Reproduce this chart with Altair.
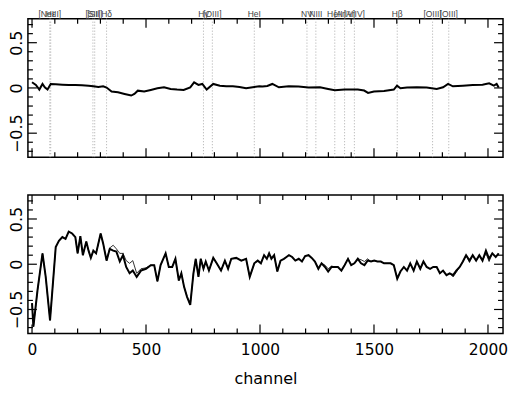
import altair as alt
import pandas as pd

# ---------------- data ----------------
top_chan = [0, 17, 32, 46, 56, 68, 82, 104, 133, 161, 190, 219, 248, 269, 291, 312, 327,
            349, 377, 406, 435, 449, 464, 492, 521, 550, 579, 608, 636, 665, 694, 711,
            730, 747, 766, 795, 824, 852, 881, 910, 939, 968, 997, 1011, 1032, 1054,
            1083, 1126, 1169, 1213, 1263, 1299, 1328, 1371, 1429, 1457, 1474, 1500,
            1544, 1587, 1601, 1616, 1645, 1688, 1731, 1775, 1803, 1825, 1846, 1890,
            1933, 1976, 2005, 2026, 2038, 2047]
top_val = [0.063, 0.033, -0.018, 0.044, 0.007, -0.018, 0.044, 0.040, 0.036, 0.033, 0.033,
           0.029, 0.025, 0.018, 0.011, 0.018, 0.004, -0.040, -0.048, -0.066, -0.084,
           -0.066, -0.030, -0.040, -0.022, -0.004, 0.007, -0.011, -0.018, -0.022, 0.007,
           0.062, 0.033, 0.044, -0.018, 0.044, 0.025, 0.018, 0.018, 0.011, -0.004, 0.007,
           0.018, 0.015, 0.022, 0.044, 0.007, 0.018, 0.015, 0.004, 0.007, -0.011, -0.026,
           -0.018, -0.018, -0.029, -0.055, -0.040, -0.033, -0.018, 0.025, -0.004, 0.004,
           0.007, 0.004, -0.011, 0.007, 0.044, 0.018, 0.025, 0.033, 0.036, 0.051, 0.025,
           0.044, 0.004]

bot_chan = [0, 6, 24, 46, 60, 79, 96, 104, 118, 133, 147, 161, 176, 190, 200, 212, 223,
            238, 248, 258, 269, 281, 301, 312, 327, 341, 356, 370, 385, 399, 413, 428,
            442, 459, 478, 500, 521, 536, 550, 564, 586, 600, 615, 629, 644, 655, 667,
            680, 694, 708, 718, 730, 740, 752, 762, 776, 795, 810, 829, 846, 860, 874,
            896, 918, 939, 955, 975, 990, 1004, 1018, 1030, 1040, 1050, 1062, 1076,
            1090, 1105, 1116, 1127, 1141, 1155, 1170, 1184, 1198, 1213, 1227, 1241,
            1256, 1270, 1285, 1299, 1314, 1328, 1342, 1357, 1371, 1386, 1400, 1414,
            1429, 1443, 1458, 1472, 1487, 1501, 1515, 1530, 1544, 1559, 1573, 1587,
            1602, 1616, 1631, 1645, 1659, 1674, 1688, 1703, 1717, 1731, 1746, 1760,
            1775, 1789, 1803, 1818, 1832, 1847, 1861, 1876, 1890, 1904, 1919, 1933,
            1948, 1962, 1976, 1991, 2005, 2019, 2034, 2047]
bot_thick = [-0.43, -0.69, -0.29, 0.12, -0.14, -0.62, -0.07, 0.19, 0.26, 0.30, 0.28, 0.36,
             0.34, 0.30, 0.12, 0.31, 0.10, 0.25, 0.15, 0.07, 0.15, 0.12, 0.34, 0.23, 0.04,
             0.17, 0.15, 0.14, 0.03, 0.10, -0.03, -0.10, -0.07, -0.14, -0.07, -0.05,
             -0.01, -0.01, -0.19, -0.01, 0.12, -0.03, -0.03, 0.06, -0.18, -0.10, -0.25,
             -0.36, -0.45, -0.10, 0.06, -0.14, 0.06, -0.05, 0.03, -0.07, 0.07, 0.01,
             -0.07, 0.04, -0.05, 0.06, 0.07, 0.04, 0.06, -0.14, 0.01, 0.04, 0.01, 0.10,
             0.06, 0.12, 0.06, 0.10, -0.08, 0.04, 0.06, 0.08, 0.10, 0.08, 0.04, 0.06,
             0.03, 0.09, 0.10, 0.07, 0.03, -0.05, 0.01, -0.03, -0.08, -0.03, -0.03,
             -0.03, -0.07, -0.01, 0.06, -0.01, 0.01, 0.06, 0.01, -0.01, 0.04, 0.03,
             0.04, 0.03, 0.03, 0.01, 0.01, 0.01, -0.01, -0.16, -0.08, -0.03, -0.07,
             0.01, -0.07, 0.03, -0.05, 0.03, -0.03, -0.05, -0.03, -0.03, -0.10, -0.07,
             -0.12, -0.10, -0.12, -0.07, -0.03, 0.03, 0.10, 0.04, 0.10, 0.04, 0.10,
             0.04, 0.15, 0.06, 0.12, 0.08, 0.12]
bot_thin = [-0.43, -0.69, -0.29, 0.12, -0.14, -0.62, -0.07, 0.19, 0.26, 0.30, 0.28, 0.36,
            0.34, 0.30, 0.12, 0.31, 0.10, 0.25, 0.15, 0.07, 0.15, 0.12, 0.34, 0.23, 0.04,
            0.18, 0.21, 0.17, 0.12, 0.12, 0.04, 0.01, 0.04, -0.10, -0.05, -0.04,
            -0.01, -0.01, -0.19, -0.01, 0.12, -0.03, -0.03, 0.06, -0.18, -0.10, -0.25,
            -0.36, -0.45, -0.10, 0.06, -0.14, 0.06, -0.05, 0.03, -0.07, 0.07, 0.01,
            -0.07, 0.04, -0.05, 0.06, 0.07, 0.04, 0.06, -0.14, 0.01, 0.04, 0.01, 0.10,
            0.06, 0.10, 0.08, 0.10, -0.08, 0.04, 0.06, 0.08, 0.10, 0.08, 0.04, 0.06,
            0.03, 0.09, 0.10, 0.07, 0.03, -0.05, 0.01, -0.01, -0.05, -0.02, -0.03,
            -0.03, -0.07, -0.01, 0.06, -0.01, 0.01, 0.06, 0.05, 0.03, 0.06, 0.03,
            0.04, 0.03, 0.03, 0.01, 0.01, 0.01, -0.01, -0.16, -0.08, -0.03, -0.07,
            0.01, -0.07, 0.03, -0.05, 0.03, -0.03, -0.05, -0.03, -0.03, -0.10, -0.07,
            -0.12, -0.10, -0.14, -0.09, -0.03, 0.03, 0.10, 0.02, 0.10, 0.04, 0.10,
            0.04, 0.12, 0.03, 0.12, 0.08, 0.12]

line_chan = [78, 82, 267, 275, 327, 752, 791, 975, 1206, 1245, 1328, 1371, 1414,
             1602, 1757, 1828]
line_name = ["[NeIII]", "Hε", "[SII]", "[SII]", "Hδ", "Hγ", "[OIII]", "HeI", "NV",
             "NIII", "HeII", "[ArIV]", "[ArIV]", "Hβ", "[OIII]", "[OIII]"]

x_major = [0, 500, 1000, 1500, 2000]
x_minor = [100, 200, 300, 400, 600, 700, 800, 900, 1100, 1200, 1300, 1400, 1600,
           1700, 1800, 1900]
y_major = [-0.5, 0, 0.5]
y_minor = [-0.7, -0.6, -0.4, -0.3, -0.2, -0.1, 0.1, 0.2, 0.3, 0.4, 0.6, 0.7]

x_title = "channel"

# ---------------- layout ----------------
W, H = 477, 139
XDOM = [-18, 2066]
YDOM = [-0.765, 0.765]
MAJ, MIN = 9, 5
FONT = "DejaVu Sans"

xs = alt.Scale(domain=XDOM, nice=False, zero=False)
ys = alt.Scale(domain=YDOM, nice=False, zero=False)

top_df = pd.DataFrame({"chan": top_chan, "val": top_val})
bot_df = pd.concat([
    pd.DataFrame({"chan": bot_chan, "val": bot_thin, "s": "thin"}),
    pd.DataFrame({"chan": bot_chan, "val": bot_thick, "s": "thick"}),
])
lines_df = pd.DataFrame({"chan": line_chan, "name": line_name})
xmaj_df = pd.DataFrame({"t": x_major})
xmin_df = pd.DataFrame({"t": x_minor})
ymaj_df = pd.DataFrame({"t": y_major})
ymin_df = pd.DataFrame({"t": y_minor})

yaxis = alt.Axis(values=y_major, format="~g", labelAngle=270, ticks=False, domain=False,
                 grid=False, labelFontSize=16, labelFont=FONT, labelColor="black",
                 labelPadding=3, title=None, labelOverlap=False)
xaxis_bot = alt.Axis(values=x_major, format="d", ticks=False, domain=False, grid=False,
                     labelFontSize=15.5, labelFont=FONT, labelColor="black", labelPadding=9,
                     labelOverlap=False, labelFlush=False, title=x_title, titleFont=FONT,
                     titleFontSize=16, titleFontWeight="normal", titleColor="black",
                     titlePadding=13)


def tick_layers(xaxis):
    out = []
    for df, ln in ((xmaj_df, MAJ), (xmin_df, MIN)):
        out.append(alt.Chart(df).mark_rule(color="black", strokeWidth=1.2).encode(
            x=alt.X("t:Q", scale=xs, axis=xaxis), y=alt.value(H),
            y2=alt.value(H - ln)))
        out.append(alt.Chart(df).mark_rule(color="black", strokeWidth=1.2).encode(
            x=alt.X("t:Q", scale=xs, axis=xaxis), y=alt.value(0),
            y2=alt.value(ln)))
    for df, ln in ((ymaj_df, MAJ), (ymin_df, MIN)):
        out.append(alt.Chart(df).mark_rule(color="black", strokeWidth=1.2).encode(
            y=alt.Y("t:Q", scale=ys, axis=yaxis), x=alt.value(0), x2=alt.value(ln)))
        out.append(alt.Chart(df).mark_rule(color="black", strokeWidth=1.2).encode(
            y=alt.Y("t:Q", scale=ys, axis=yaxis), x=alt.value(W), x2=alt.value(W - ln)))
    return out


# top panel
top_lines = alt.Chart(lines_df).mark_rule(color="#aaaaaa", strokeWidth=1,
                                           strokeDash=[1, 2]).encode(
    x=alt.X("chan:Q", scale=xs, axis=None), y=alt.value(0), y2=alt.value(H))
top_text = alt.Chart(lines_df).mark_text(fontSize=8.5, font="Liberation Sans",
                                          color="#444444", baseline="top",
                                          align="center").encode(
    x=alt.X("chan:Q", scale=xs, axis=None), y=alt.value(-9), text="name:N")
top_data = alt.Chart(top_df).mark_line(color="black", strokeWidth=2).encode(
    x=alt.X("chan:Q", scale=xs, axis=None),
    y=alt.Y("val:Q", scale=ys, axis=yaxis))
top = alt.layer(top_lines, top_data, top_text, *tick_layers(None)).properties(width=W, height=H)

# bottom panel
bot_data = alt.Chart(bot_df).mark_line(color="black").encode(
    x=alt.X("chan:Q", scale=xs, axis=xaxis_bot),
    y=alt.Y("val:Q", scale=ys, axis=yaxis),
    detail="s:N",
    strokeWidth=alt.StrokeWidth("s:N", scale=alt.Scale(domain=["thin", "thick"], range=[0.8, 2]),
                                legend=None),
)
bot = alt.layer(bot_data, *tick_layers(xaxis_bot)).properties(width=W, height=H)

chart = alt.vconcat(top, bot, spacing=38, bounds="flush").properties(
    padding={"left": 0, "top": 0, "right": 0, "bottom": 0}, background="white"
).configure_view(stroke="black", strokeWidth=1.5)

chart.save("out.html", embed_options={"renderer": "svg", "actions": False})
